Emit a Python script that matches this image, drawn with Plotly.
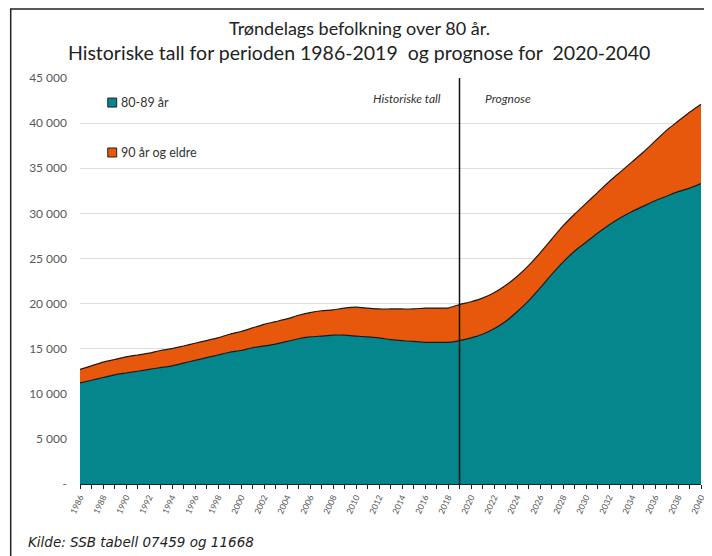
import plotly.graph_objects as go

years = list(range(1986, 2041))
age_80_89 = [
    11200, 11500, 11800, 12100, 12300, 12500, 12700, 12900, 13100, 13400,
    13700, 14000, 14300, 14600, 14800, 15100, 15300, 15500, 15800, 16100,
    16300, 16400, 16500, 16500, 16400, 16300, 16200, 16000, 15900, 15800,
    15700, 15700, 15700, 15900, 16200, 16600, 17200, 18000, 19100, 20300,
    21700, 23200, 24600, 25800, 26800, 27800, 28700, 29500, 30200, 30800,
    31400, 31900, 32400, 32800, 33300,
]
total_80_plus = [
    12700, 13100, 13500, 13800, 14100, 14300, 14500, 14800, 15000, 15300,
    15600, 15900, 16200, 16600, 16900, 17300, 17700, 18000, 18300, 18700,
    19000, 19200, 19300, 19500, 19600, 19500, 19400, 19400, 19400, 19400,
    19500, 19500, 19500, 19900, 20200, 20600, 21200, 22000, 23000, 24200,
    25600, 27100, 28600, 29900, 31100, 32300, 33500, 34600, 35700, 36800,
    38000, 39200, 40200, 41200, 42100,
]
age_90_plus = [t - a for t, a in zip(total_80_plus, age_80_89)]

series_names = ["80-89 år", "90 år og eldre"]
y_tickvals = [0, 5000, 10000, 15000, 20000, 25000, 30000, 35000, 40000, 45000]
y_ticktext = ["-", "5 000", "10 000", "15 000", "20 000", "25 000",
              "30 000", "35 000", "40 000", "45 000"]
x_ticktext = [str(y) if y % 2 == 0 else "" for y in years]

TEAL = "#04868C"
ORANGE = "#E8580C"
colors = [TEAL, ORANGE]

fig = go.Figure()
for name, vals, col in zip(series_names, [age_80_89, age_90_plus], colors):
    fig.add_trace(go.Scatter(
        x=years, y=vals, name=name, stackgroup="one",
        mode="lines", line=dict(color="#1a1a1a", width=1.2, shape="spline", smoothing=0.6),
        fillcolor=col, showlegend=False,
    ))

fig.add_shape(type="line", xref="x", yref="paper", x0=2019, x1=2019, y0=0, y1=1,
              line=dict(color="#111111", width=1.5))

# outer frame
fig.add_shape(type="rect", xref="paper", yref="paper",
              x0=-0.1116, x1=1.0064, y0=-0.25, y1=1.17,
              line=dict(color="#222222", width=1.5))

# custom legend (small squares)
leg_y = [0.9395, 0.8165]
for name, col, yy in zip(series_names, colors, leg_y):
    fig.add_shape(type="rect", xref="paper", yref="paper",
                  x0=0.0447, x1=0.0591, y0=yy - 0.0111, y1=yy + 0.0111,
                  fillcolor=col, line=dict(color="#222222", width=1))
    fig.add_annotation(x=0.0620, y=yy, xref="paper", yref="paper", text=name,
                       showarrow=False, xanchor="left", yanchor="middle",
                       font=dict(family="Lato", size=12.5, color="#333333"))

fig.add_annotation(x=2017.6, y=42700, xref="x", yref="y", text="<i>Historiske tall</i>",
                   showarrow=False, xanchor="right", yanchor="middle",
                   font=dict(family="Lato", size=12, color="#333333"))
fig.add_annotation(x=2021.0, y=42700, xref="x", yref="y", text="<i>Prognose</i>",
                   showarrow=False, xanchor="left", yanchor="middle",
                   font=dict(family="Lato", size=12, color="#333333"))

# title lines
fig.add_annotation(x=0.4498, y=1.123, xref="paper", yref="paper",
                   text="Trøndelags befolkning over 80 år.", showarrow=False,
                   xanchor="center", yanchor="middle",
                   font=dict(family="Lato", size=18, color="#222222"))
fig.add_annotation(x=0.4498, y=1.064, xref="paper", yref="paper",
                   text="Historiske tall for perioden 1986-2019  og prognose for  2020-2040",
                   showarrow=False, xanchor="center", yanchor="middle",
                   font=dict(family="Lato", size=19.5, color="#222222"))

fig.add_annotation(x=-0.0877, y=-0.1435, xref="paper", yref="paper",
                   text="<i>Kilde: SSB tabell 07459 og 11668</i>", showarrow=False,
                   xanchor="left", yanchor="middle",
                   font=dict(family="DejaVu Sans", size=13.5, color="#222222"))

fig.update_layout(
    width=704, height=548,
    margin=dict(l=72, r=5, t=70, b=72),
    paper_bgcolor="white", plot_bgcolor="white",
    showlegend=False,
    xaxis=dict(range=[1986, 2040], tickmode="array", tickvals=years, ticktext=x_ticktext,
               tickangle=-65, ticks="outside", ticklen=4, tickcolor="#222222",
               ticklabeloverflow="allow",
               showline=True, linecolor="#222222", linewidth=1.2, showgrid=False,
               zeroline=False, tickfont=dict(family="Lato", size=8.5, color="#555555")),
    yaxis=dict(range=[0, 45000], tickmode="array", tickvals=y_tickvals, ticktext=y_ticktext,
               showgrid=True, gridcolor="#dddddd", gridwidth=1, zeroline=False,
               showline=False, ticks="", ticklabelstandoff=12,
               tickfont=dict(family="Lato", size=12, color="#595959")),
)

fig.write_html("out.html")
